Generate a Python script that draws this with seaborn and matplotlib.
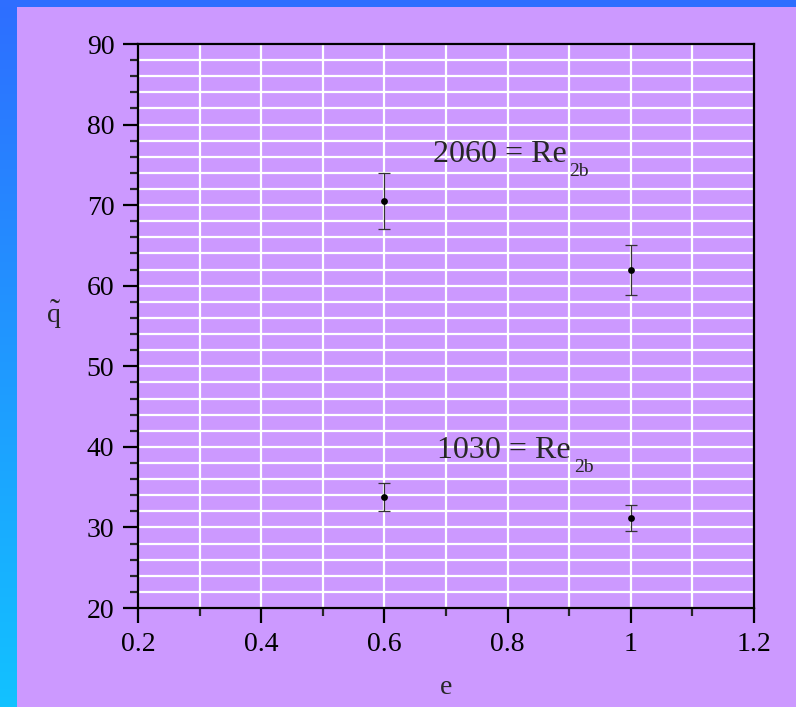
import matplotlib.pyplot as plt
import numpy as np
import pandas as pd
import seaborn as sns
from matplotlib.patches import Rectangle
from matplotlib.ticker import MultipleLocator

# ------------------------------------------------------------
# Data
# ------------------------------------------------------------
eccentricity = [0.6, 1.0, 0.6, 1.0]
q_tilde      = [70.5, 62.0, 33.8, 31.2]
q_err        = [3.5, 3.1, 1.7, 1.6]
reynolds     = [2060, 2060, 1030, 1030]

re_labels = [2060, 1030]

PURPLE = "#CC99FF"
BLUE_TOP = "#2E6EFF"
CYAN_BOTTOM = "#12C2FF"

df = pd.DataFrame({"e": eccentricity, "q": q_tilde, "err": q_err, "Re": reynolds})

sns.set_style("ticks")
plt.rcParams["font.family"] = ["Liberation Serif", "DejaVu Serif"]

fig = plt.figure(figsize=(7.96, 7.07), dpi=100, facecolor=PURPLE)

# left gradient strip + top strip
strip = fig.add_axes([0, 0, 17 / 796, 1])
c0 = np.array([int(BLUE_TOP[i:i + 2], 16) for i in (1, 3, 5)]) / 255
c1 = np.array([int(CYAN_BOTTOM[i:i + 2], 16) for i in (1, 3, 5)]) / 255
t = np.linspace(0, 1, 256)[:, None, None]
strip.imshow(c0 + (c1 - c0) * t, aspect="auto", extent=[0, 1, 0, 1], origin="upper")
strip.set_axis_off()
fig.patches.append(Rectangle((0, 1 - 7 / 707), 1, 7 / 707, transform=fig.transFigure,
                             facecolor=BLUE_TOP, edgecolor="none", zorder=5))

ax = fig.add_axes([138 / 796, 1 - 608 / 707, 616 / 796, 564 / 707])
ax.set_facecolor(PURPLE)

ax.errorbar(df["e"], df["q"], yerr=df["err"], fmt="none", ecolor="#333333",
            elinewidth=0.9, capsize=4.5, capthick=0.9, zorder=3)
sns.scatterplot(data=df, x="e", y="q", ax=ax, color="black", s=24,
                edgecolor="black", linewidth=0, zorder=4, legend=False)

ax.set_xlim(0.2, 1.2)
ax.set_ylim(20, 90)
ax.xaxis.set_major_locator(MultipleLocator(0.2))
ax.xaxis.set_minor_locator(MultipleLocator(0.1))
ax.yaxis.set_major_locator(MultipleLocator(10))
ax.yaxis.set_minor_locator(MultipleLocator(2))
ax.xaxis.set_major_formatter(plt.FuncFormatter(lambda v, p: f"{v:g}"))

ax.grid(True, which="both", color="white", linewidth=1.6)
ax.set_axisbelow(True)

for s in ax.spines.values():
    s.set_color("black")
    s.set_linewidth(1.6)

ax.tick_params(which="major", direction="out", length=11, width=1.6,
               labelsize=20, pad=6, colors="black")
ax.tick_params(which="minor", direction="out", length=6, width=1.6)

ax.set_xlabel("e", fontsize=20, labelpad=13)

# y label: q with a tilde placed above it
ylab = ax.set_ylabel("q", fontsize=20, rotation=0, va="baseline", ha="center")
ax.yaxis.set_label_coords(-0.136, 0.507)
ax.annotate("\u02dc", xy=(0.5, 0), xycoords=ylab, xytext=(0, 5.5),
            textcoords="offset points", fontsize=22, ha="center", va="baseline")

# Reynolds annotations
for re_val, (tx, ty) in zip(re_labels, [(0.679, 75.4), (0.686, 38.6)]):
    main = ax.text(tx, ty, f"{re_val} = Re", fontsize=23, ha="left", va="baseline")
    ax.annotate("2b", xy=(1, 0), xycoords=main, xytext=(2, -5),
                textcoords="offset points", fontsize=14, ha="left", va="baseline")

fig.savefig("out.png", dpi=100, facecolor=PURPLE)
